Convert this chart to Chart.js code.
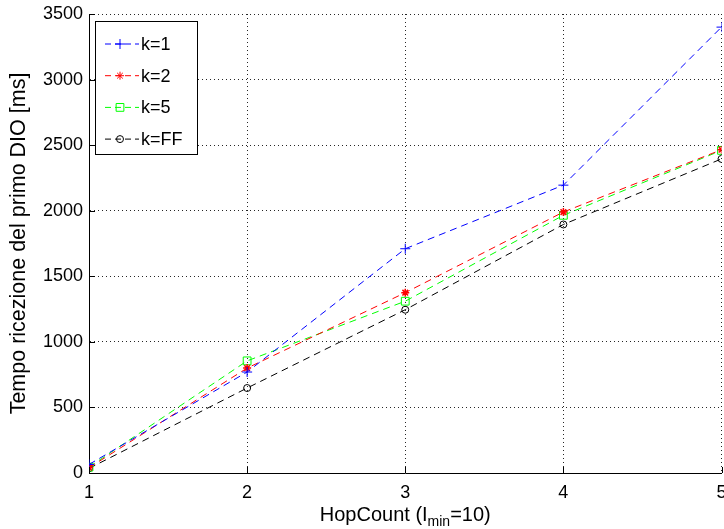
<!DOCTYPE html>
<html>
<head>
<meta charset="utf-8">
<script src="https://cdn.jsdelivr.net/npm/chart.js@4/dist/chart.umd.min.js"></script>
<style>
  html, body { margin: 0; padding: 0; background: #fff; overflow: hidden; }
  /* a few px wider than the window so the last x label is cut at the edge */
  #wrap { position: relative; width: 728px; height: 529px; }
</style>
</head>
<body>
<div id="wrap"><canvas id="chart"></canvas></div>
<script>
/* first DIO reception time vs hop count */

var hopCounts = [1, 2, 3, 4, 5];
var seriesLabels = ['k=1', 'k=2', 'k=5', 'k=FF'];
var timeK1 = [65, 770, 1710, 2195, 3400];
var timeK2 = [40, 800, 1375, 1990, 2465];
var timeK5 = [45, 855, 1310, 1965, 2460];
var timeKFF = [35, 648, 1245, 1895, 2395];
var seriesColors = ['#0000ff', '#ff0000', '#00ff00', '#000000'];
var seriesMarkers = ['cross', 'star', 'rect', 'circle'];
var markerSizes = [5, 4, 5.5, 3.5];

var FONT = "'Liberation Sans', Arial, Helvetica, sans-serif";
var DASH = [7, 5];

function toPoints(values) {
  return hopCounts.map(function(h, i) { return { x: h, y: values[i] }; });
}

var datasets = [timeK1, timeK2, timeK5, timeKFF].map(function(vals, i) {
  return {
    label: seriesLabels[i],
    data: toPoints(vals),
    borderColor: seriesColors[i],
    backgroundColor: 'rgba(0,0,0,0)',
    borderWidth: 1,
    borderDash: DASH,
    pointStyle: seriesMarkers[i],
    pointRadius: markerSizes[i],
    pointBorderWidth: seriesMarkers[i] === 'star' ? 1.5 : 1,
    pointBorderColor: seriesColors[i],
    pointBackgroundColor: 'rgba(0,0,0,0)',
    tension: 0,
    fill: false
  };
});

/* ── inward tick marks on the left and bottom axes ─────────────── */
var innerTicks = {
  id: 'innerTicks',
  afterDatasetsDraw: function(chart) {
    var ctx = chart.ctx, a = chart.chartArea;
    var xs = chart.scales.x, ys = chart.scales.y;
    ctx.save();
    ctx.strokeStyle = '#000';
    ctx.lineWidth = 1;
    ctx.beginPath();
    ys.ticks.forEach(function(t) {
      var y = Math.round(ys.getPixelForValue(t.value)) + 0.5;
      ctx.moveTo(a.left, y); ctx.lineTo(a.left + 6, y);
    });
    xs.ticks.forEach(function(t) {
      var x = Math.round(xs.getPixelForValue(t.value)) + 0.5;
      ctx.moveTo(x, a.bottom); ctx.lineTo(x, a.bottom - 6);
    });
    ctx.stroke();
    ctx.restore();
  }
};

/* ── legend box in the upper-left corner of the plot ───────────── */
var legendBox = {
  id: 'legendBox',
  afterDraw: function(chart) {
    var ctx = chart.ctx, a = chart.chartArea;
    var bx = a.left + 6, by = a.top + 7, bw = 102, bh = 133;
    ctx.save();
    ctx.fillStyle = '#fff';
    ctx.fillRect(bx, by, bw, bh);
    ctx.strokeStyle = '#000';
    ctx.lineWidth = 1;
    ctx.strokeRect(bx + 0.5, by + 0.5, bw, bh);
    ctx.textBaseline = 'middle';
    ctx.textAlign = 'left';
    chart.data.datasets.forEach(function(ds, i) {
      var y = by + 23 + i * 31.7;
      ctx.strokeStyle = ds.borderColor;
      ctx.lineWidth = 1;
      ctx.setLineDash([6, 4]);
      ctx.beginPath();
      ctx.moveTo(bx + 10, y); ctx.lineTo(bx + 44, y);
      ctx.stroke();
      ctx.setLineDash([]);
      ctx.fillStyle = 'rgba(0,0,0,0)';
      Chart.helpers.drawPoint(ctx, {
        pointStyle: ds.pointStyle,
        radius: ds.pointRadius,
        borderWidth: ds.pointBorderWidth,
        rotation: 0
      }, bx + 25, y);
      ctx.fillStyle = '#000';
      ctx.font = '18px ' + FONT;
      ctx.fillText(ds.label, bx + 46, y + 1);
    });
    ctx.restore();
  }
};

/* ── x axis title with subscript ───────────────────────────────── */
var xTitle = {
  id: 'xTitle',
  afterDraw: function(chart) {
    var ctx = chart.ctx, a = chart.chartArea;
    var main1 = 'HopCount (I', sub = 'min', main2 = '=10)';
    ctx.save();
    ctx.fillStyle = '#000';
    ctx.textBaseline = 'alphabetic';
    ctx.textAlign = 'left';
    ctx.font = '20px ' + FONT;
    var w1 = ctx.measureText(main1).width, w3 = ctx.measureText(main2).width;
    ctx.font = '14px ' + FONT;
    var w2 = ctx.measureText(sub).width;
    var x = (a.left + a.right) / 2 - (w1 + w2 + w3) / 2;
    var base = 521;
    ctx.font = '20px ' + FONT;
    ctx.fillText(main1, x, base);
    ctx.font = '14px ' + FONT;
    ctx.fillText(sub, x + w1, base + 5);
    ctx.font = '20px ' + FONT;
    ctx.fillText(main2, x + w1 + w2, base);
    ctx.restore();
  }
};

function plainTick(v) { return String(v); }

new Chart(document.getElementById('chart'), {
  type: 'line',
  data: { datasets: datasets },
  options: {
    responsive: true,
    maintainAspectRatio: false,
    animation: false,
    layout: { padding: { left: 0, right: 0, top: 14, bottom: 0 } },
    scales: {
      x: {
        type: 'linear',
        min: 1, max: 5,
        afterFit: function(s) { s.height = 56; s.paddingLeft = 0; s.paddingRight = 0; },
        ticks: { stepSize: 1, color: '#000', padding: 9, font: { family: FONT, size: 18 }, callback: plainTick },
        grid: { color: 'rgba(0,0,0,0.85)', lineWidth: 1, drawTicks: false },
        border: { display: true, color: '#000', width: 1, dash: [1, 3] },
        title: { display: false }
      },
      y: {
        type: 'linear',
        min: 0, max: 3500,
        afterFit: function(s) { s.width = 89; s.paddingTop = 0; s.paddingBottom = 0; },
        ticks: { stepSize: 500, color: '#000', padding: 6, font: { family: FONT, size: 18 }, callback: plainTick },
        grid: { color: 'rgba(0,0,0,0.85)', lineWidth: 1, drawTicks: false },
        border: { display: true, color: '#000', width: 1, dash: [1, 3] },
        title: {
          display: true,
          text: 'Tempo ricezione del primo DIO [ms]',
          color: '#000',
          font: { family: FONT, size: 21.5 },
          padding: { top: 6, bottom: 0 }
        }
      }
    },
    plugins: {
      legend: { display: false },
      tooltip: { enabled: false }
    }
  },
  plugins: [innerTicks, legendBox, xTitle]
});
</script>
</body>
</html>
